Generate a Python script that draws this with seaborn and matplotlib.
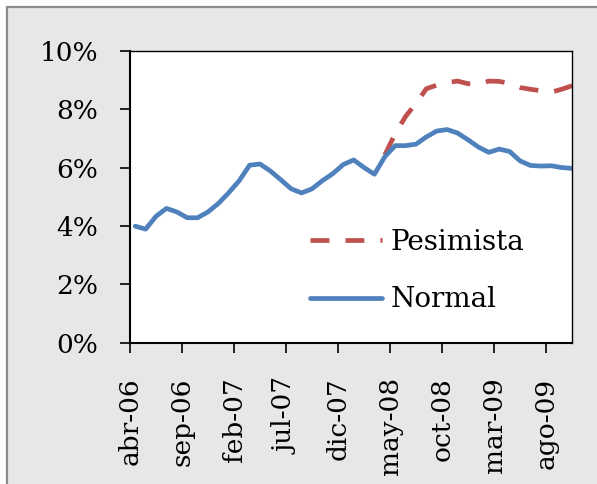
import numpy as np
import seaborn as sns
import matplotlib.pyplot as plt
from matplotlib.patches import Rectangle
from matplotlib.ticker import FuncFormatter

# monthly series, abr-06 .. oct-09 (%)
normal = [3.99, 3.89, 4.33, 4.60, 4.48, 4.28, 4.28, 4.48, 4.77, 5.14,
          5.55, 6.08, 6.12, 5.88, 5.58, 5.27, 5.13, 5.27, 5.55, 5.79,
          6.10, 6.26, 6.00, 5.77, 6.37, 6.75, 6.75, 6.80, 7.05, 7.25,
          7.30, 7.18, 6.95, 6.70, 6.52, 6.63, 6.55, 6.23, 6.07, 6.05,
          6.06, 6.00, 5.97]
# pessimistic scenario starts in abr-08
inicio_pesimista = 24
pesimista = [6.43, 7.16, 7.75, 8.20, 8.70, 8.82, 8.91, 8.96, 8.87, 8.84,
             8.96, 8.95, 8.88, 8.74, 8.68, 8.63, 8.58, 8.68, 8.80]

etiquetas = ['abr-06', 'sep-06', 'feb-07', 'jul-07', 'dic-07',
             'may-08', 'oct-08', 'mar-09', 'ago-09']
yticks = [0, 2, 4, 6, 8, 10]

azul = '#4f81bd'
rojo = '#c0504d'

sns.set_style('white')
plt.rcParams['font.family'] = ['DejaVu Serif']
plt.rcParams['text.color'] = 'black'
plt.rcParams['xtick.color'] = 'black'
plt.rcParams['ytick.color'] = 'black'

fig = plt.figure(figsize=(5.97, 4.84), dpi=100)
fig.patch.set_facecolor('white')
fig.add_artist(Rectangle((7 / 597, -0.1), 1.2, 1 - 7 / 484 + 0.1,
                         transform=fig.transFigure, facecolor='#e6e7e9',
                         edgecolor='#8c8c8c', linewidth=1.6, zorder=-10))

ax = fig.add_axes([0.2178, 0.2919, 0.7398, 0.6033])
ax.set_facecolor('white')

x_normal = np.arange(len(normal))
x_pes = np.arange(inicio_pesimista, inicio_pesimista + len(pesimista))

sns.lineplot(x=x_pes, y=pesimista, ax=ax, color=rojo, linewidth=3.4,
             linestyle=(0, (4.0, 3.4)), label='Pesimista')
sns.lineplot(x=x_normal, y=normal, ax=ax, color=azul, linewidth=3.4,
             label='Normal', solid_capstyle='round', solid_joinstyle='round')

ax.set_xlim(-0.5, 41.97)
ax.set_ylim(0, 10)
ax.set_xticks(np.arange(len(etiquetas)) * 5 - 0.5)
ax.set_xticklabels(etiquetas, rotation=90, fontsize=19)
ax.set_yticks(yticks)
ax.yaxis.set_major_formatter(FuncFormatter(lambda v, p: f'{v:.0f}%'))
ax.tick_params(axis='y', labelsize=19, length=7, width=1.2, pad=16,
               direction='out', left=True, colors='black')
ax.tick_params(axis='x', length=7, width=1.2, pad=18,
               direction='out', bottom=True, colors='black')

for side in ['top', 'right']:
    ax.spines[side].set_linewidth(1.0)
    ax.spines[side].set_color('black')
for side in ['left', 'bottom']:
    ax.spines[side].set_linewidth(1.5)
    ax.spines[side].set_color('black')

ax.set_xlabel('')
ax.set_ylabel('')

leg = ax.legend(loc='center left', bbox_to_anchor=(310 / 597, 1 - 271 / 484),
                bbox_transform=fig.transFigure, frameon=False, fontsize=20,
                borderpad=0, borderaxespad=0, handlelength=2.6,
                handletextpad=0.3, labelspacing=1.1)
for t in leg.get_texts():
    t.set_color('black')

fig.savefig('out.png', dpi=100)
